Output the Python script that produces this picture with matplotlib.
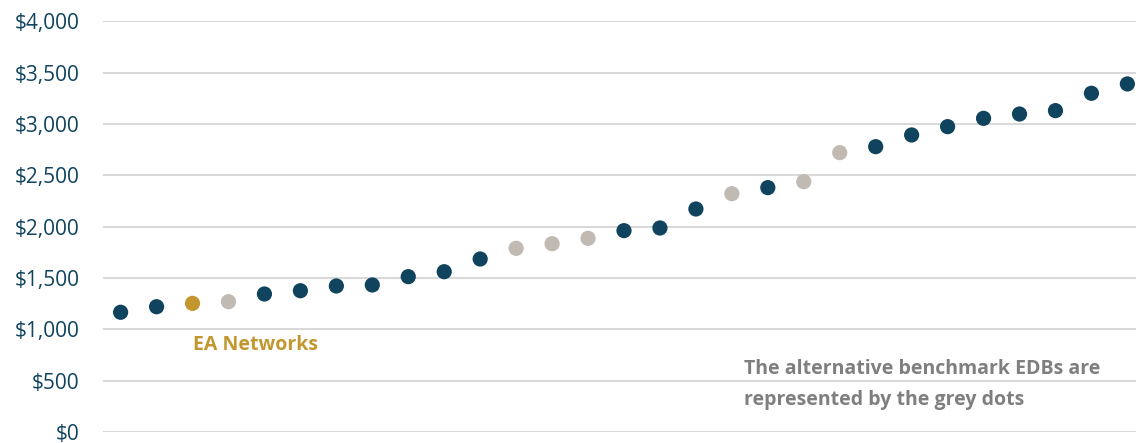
import numpy as np
import matplotlib
matplotlib.use('Agg')
import matplotlib.pyplot as plt
from matplotlib.ticker import FuncFormatter

plt.rcParams['font.family'] = ['Open Sans', 'DejaVu Sans']

# Cost per ICP for each EDB, sorted low to high
values = [1166, 1220, 1253, 1269, 1344, 1376, 1422, 1432, 1513, 1561,
          1685, 1789, 1834, 1886, 1961, 1987, 2172, 2321, 2380, 2438,
          2721, 2779, 2893, 2974, 3055, 3097, 3130, 3299, 3390]
# 'ea' = EA Networks, 'alt' = alternative benchmark EDB, 'edb' = other EDBs
groups = ['edb', 'edb', 'ea', 'alt', 'edb', 'edb', 'edb', 'edb', 'edb', 'edb',
          'edb', 'alt', 'alt', 'alt', 'edb', 'edb', 'edb', 'alt', 'edb', 'alt',
          'alt', 'edb', 'edb', 'edb', 'edb', 'edb', 'edb', 'edb', 'edb']
yticks = [0, 500, 1000, 1500, 2000, 2500, 3000, 3500, 4000]

NAVY = '#0F435E'
GOLD = '#C3972F'
GREY = '#C0BAB2'
TEXT_GREY = '#7F7F7F'
colours = {'edb': NAVY, 'ea': GOLD, 'alt': GREY}

W, H = 1136, 443
fig = plt.figure(figsize=(W / 100, H / 100), dpi=100)
ax = fig.add_axes([103 / W, (H - 432) / H, 1 - 103 / W, (432 - 21.3) / H])

x = np.arange(len(values))
ax.scatter(x, values, s=120, c=[colours[g] for g in groups],
           linewidths=0, zorder=3)

ax.set_xlim(-0.49, 28.24)
ax.set_ylim(0, 4000)
ax.set_yticks(yticks)
ax.yaxis.set_major_formatter(FuncFormatter(lambda v, _: f'${v:,.0f}'))
ax.set_xticks([])
ax.tick_params(axis='y', length=0, pad=17, labelsize=15, labelcolor=NAVY)
ax.grid(axis='y', color='#D9D9D9', linewidth=1.5, zorder=0)
for s in ax.spines.values():
    s.set_visible(False)

ax.text(2, 850, 'EA Networks', color=GOLD, fontsize=14, fontweight='bold',
        ha='left', va='center')
ax.text(17.35, 460, 'The alternative benchmark EDBs are\nrepresented by the grey dots',
        color=TEXT_GREY, fontsize=14, fontweight='bold', ha='left', va='center',
        linespacing=1.75)

fig.savefig('out.png', dpi=100)
plt.close(fig)
